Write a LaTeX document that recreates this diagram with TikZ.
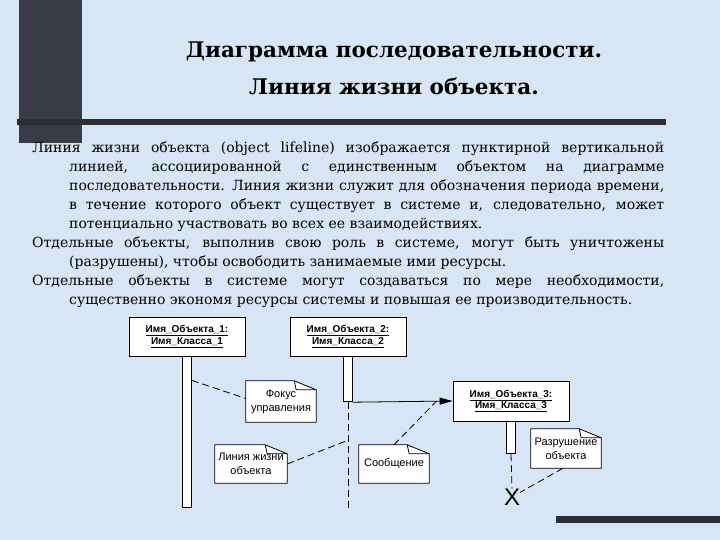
\documentclass[tikz,border=0pt]{standalone}
\usepackage{fontspec}
\setmainfont{DejaVu Serif}
\setsansfont{Liberation Sans}
\usepackage{tikz}
\tikzset{>=stealth}
\usetikzlibrary{shapes,arrows}
\definecolor{bgblue}{RGB}{216,229,244}
\definecolor{darkbar}{RGB}{44,46,54}
\definecolor{barfill}{RGB}{58,61,72}
\tikzstyle{objbox} = [rectangle, draw, fill=white, line width=0.8pt,
    text centered, align=center, minimum width=116pt, minimum height=39pt,
    font=\sffamily\bfseries\fontsize{10}{11.5}\selectfont]
\tikzstyle{actbar} = [rectangle, draw, fill=white, line width=0.8pt,
    minimum width=9pt, inner sep=0pt, anchor=north]
\tikzstyle{note} = [rectangle, fill=white, align=center,
    minimum width=70pt, minimum height=38pt,
    font=\sffamily\fontsize{11}{14}\selectfont]
\tikzstyle{notebox} = [draw, line width=0.8pt]
\tikzstyle{lifeline} = [draw, line width=0.8pt, dash pattern=on 7pt off 4pt]
\tikzstyle{notelink} = [draw, line width=0.8pt, dash pattern=on 7pt off 4pt]
\tikzstyle{line} = [draw, line width=0.8pt, ->]
\tikzstyle{title} = [anchor=base, inner sep=0pt,
    font=\bfseries\fontsize{21.5}{24}\selectfont]
\tikzstyle{bodytext} = [anchor=base west, inner sep=0pt, align=left,
    font=\fontsize{14}{19}\selectfont]
\usetikzlibrary{arrows.meta}
\tikzset{%
      >={Triangle[width=7pt,length=13pt]},
}
\newcommand{\dogear}[1]{%
  \fill[bgblue] ([xshift=-22pt]#1.north east) -- (#1.north east) -- ([yshift=-9pt]#1.north east) -- cycle;
  \path[notebox] (#1.north west) -- ([xshift=-22pt]#1.north east) -- ([yshift=-9pt]#1.north east)
    -- (#1.south east) -- (#1.south west) -- cycle;
  \path[notebox] ([xshift=-22pt]#1.north east) -- ([xshift=-20pt,yshift=-9pt]#1.north east)
    -- ([yshift=-9pt]#1.north east);
}
\newcommand{\fullline}[1]{\makebox[632pt][s]{#1}}
\newcommand{\hangline}[1]{\hspace*{37pt}\makebox[595pt][s]{#1}}

\begin{document}
\begin{tikzpicture}[x=1pt, y=-1pt]
    \fill[bgblue] (0,0) rectangle (720,540);
    \useasboundingbox (0,0) rectangle (720,540);
    \fill[barfill] (19,0) rectangle (82,143);
    \fill[darkbar] (17,119) rectangle (666,125);
    \fill[darkbar] (556,516) rectangle (720,523);

    \node[title] (title1) at (394,58) {Диаграмма последовательности.};
    \node[title] (title2) at (394,95) {Линия жизни объекта.};

    \node[bodytext] (body) at (32,304) {%
        \fullline{Линия жизни объекта (object lifeline) изображается пунктирной вертикальной}\\
        \hangline{линией, ассоциированной с единственным объектом на диаграмме}\\
        \hangline{последовательности. Линия жизни служит для обозначения периода времени,}\\
        \hangline{в течение которого объект существует в системе и, следовательно, может}\\
        \hspace*{37pt}потенциально участвовать во всех ее взаимодействиях.\\
        \fullline{Отдельные объекты, выполнив свою роль в системе, могут быть уничтожены}\\
        \hspace*{37pt}(разрушены), чтобы освободить занимаемые ими ресурсы.\\
        \fullline{Отдельные объекты в системе могут создаваться по мере необходимости,}\\
        \hspace*{37pt}существенно экономя ресурсы системы и повышая ее производительность.};

    \node[objbox] (obj1) at (187,336.5) {\underline{Имя\_Объекта\_1:}\\\underline{Имя\_Класса\_1}};
    \node[objbox] (obj2) at (348,336.5) {\underline{Имя\_Объекта\_2:}\\\underline{Имя\_Класса\_2}};
    \node[objbox, minimum height=40pt] (obj3) at (511,401) {\underline{Имя\_Объекта\_3:}\\\underline{Имя\_Класса\_3}};

    \node[actbar, minimum height=151pt] (act1) at (obj1.south) {};
    \node[actbar, minimum height=45pt] (act2) at (obj2.south) {};
    \node[actbar, minimum height=32pt] (act3) at (obj3.south) {};

    \node[inner sep=0pt, font=\sffamily\fontsize{24}{24}\selectfont] (destroy) at (512,497) {X};
    \coordinate (end2) at (348,508);

    \path [lifeline] (act2.south) -- (end2);
    \path [lifeline] (act3.south) -- (destroy.north);
    \path [line] (act2.south east) -- (obj3.west);

    \node[note, minimum height=41pt] (fokus) at (281,401.5) {Фокус\\управления};
    \node[note] (lifenote) at (251,464) {Линия жизни\\объекта};
    \node[note] (msgnote) at (394,464) {Сообщение};
    \node[note, minimum height=39pt] (destnote) at (566,448.5) {Разрушение\\объекта};
    \dogear{fokus}
    \dogear{lifenote}
    \dogear{msgnote}
    \dogear{destnote}

    \coordinate (focpt) at ([yshift=-24pt]act1.north east);
    \coordinate (life2) at ([yshift=-38pt]act2.south);
    \coordinate (msgpt) at ([xshift=-16pt]obj3.west);

    \path [notelink] (focpt) -- ([yshift=3pt]fokus.west);
    \path [notelink] (lifenote.east) -- (life2);
    \path [notelink] (msgnote.north) -- (msgpt);
    \path [notelink] ([xshift=-3pt]destnote.south) -- (destroy);
\end{tikzpicture}
\end{document}
